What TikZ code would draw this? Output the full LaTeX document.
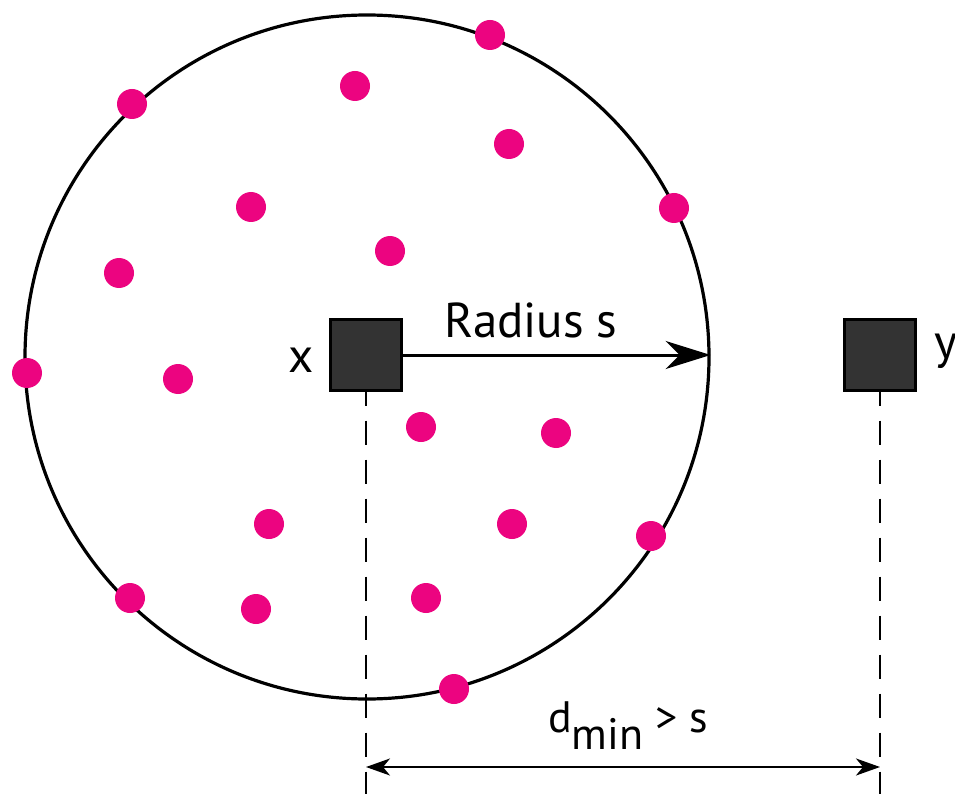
\documentclass[tikz,border=0pt]{standalone}
\usepackage{fontspec}
\setmainfont{PT Sans}
\usetikzlibrary{arrows.meta}
\definecolor{dotpink}{RGB}{236,4,128}
\definecolor{boxgray}{RGB}{51,51,51}
\begin{document}
\begin{tikzpicture}[x=1pt,y=-1pt,
  dot/.style={circle,fill=dotpink,inner sep=0pt,minimum size=30pt},
  pointbox/.style={draw=black,line width=3pt,fill=boxgray,minimum size=71pt,inner sep=0pt},
  ballstyle/.style={circle,draw=black,line width=3.2pt,minimum size=684pt,inner sep=0pt},
  biglabel/.style={font=\fontsize{49}{58}\selectfont,inner sep=0pt},
  smalllabel/.style={font=\fontsize{44}{52}\selectfont,inner sep=0pt},
  guide/.style={line width=2.5pt,dash pattern=on 24pt off 15pt,dash phase=10.5pt},
  radiusarrow/.style={line width=3pt,-{Stealth[length=45pt,width=28pt,inset=14pt]}},
  distarrow/.style={line width=2pt,{Stealth[length=24pt,width=17pt,inset=7pt]}-{Stealth[length=24pt,width=17pt,inset=7pt]}}]
\useasboundingbox (0,0) rectangle (955,794);
\fill[white] (0,0) rectangle (955,794);
% ball
\node[ballstyle] (ball) at (367,357) {};
% dots
\node[dot] (d1) at (490,35) {};
\node[dot] (d2) at (132,104) {};
\node[dot] (d3) at (355,86) {};
\node[dot] (d4) at (509,144) {};
\node[dot] (d5) at (674,208) {};
\node[dot] (d6) at (251,207) {};
\node[dot] (d7) at (390,251) {};
\node[dot] (d8) at (119,273) {};
\node[dot] (d9) at (27,373) {};
\node[dot] (d10) at (178,379) {};
\node[dot] (d11) at (421,427) {};
\node[dot] (d12) at (556,433) {};
\node[dot] (d13) at (269,524) {};
\node[dot] (d14) at (512,524) {};
\node[dot] (d15) at (651,536) {};
\node[dot] (d16) at (130,598) {};
\node[dot] (d17) at (256,609) {};
\node[dot] (d18) at (426,598) {};
\node[dot] (d19) at (454,689) {};
% points
\node[pointbox] (x) at (366,355) {};
\node[pointbox] (y) at (880,355) {};
\node[biglabel,anchor=base east] (xl) at (314,372) {x};
\node[biglabel,anchor=base west] (yl) at (934,358) {y};
% radius
\draw[radiusarrow] (x.east) -- (x.east -| ball.east);
\node[biglabel,anchor=base] (rl) at (531,337) {Radius s};
% guides
\coordinate (xb) at (x.south |- 0,794);
\coordinate (yb) at (y.south |- 0,794);
\draw[guide] (x.south) -- (xb);
\draw[guide] (y.south) -- (yb);
\coordinate (al) at (x.south |- 0,767);
\coordinate (ar) at (y.south |- 0,767);
\draw[distarrow] (al) -- (ar);
\node[smalllabel,anchor=base] (dl) at (628,732) {d\lower17pt\hbox{min} > s};
\end{tikzpicture}
\end{document}
